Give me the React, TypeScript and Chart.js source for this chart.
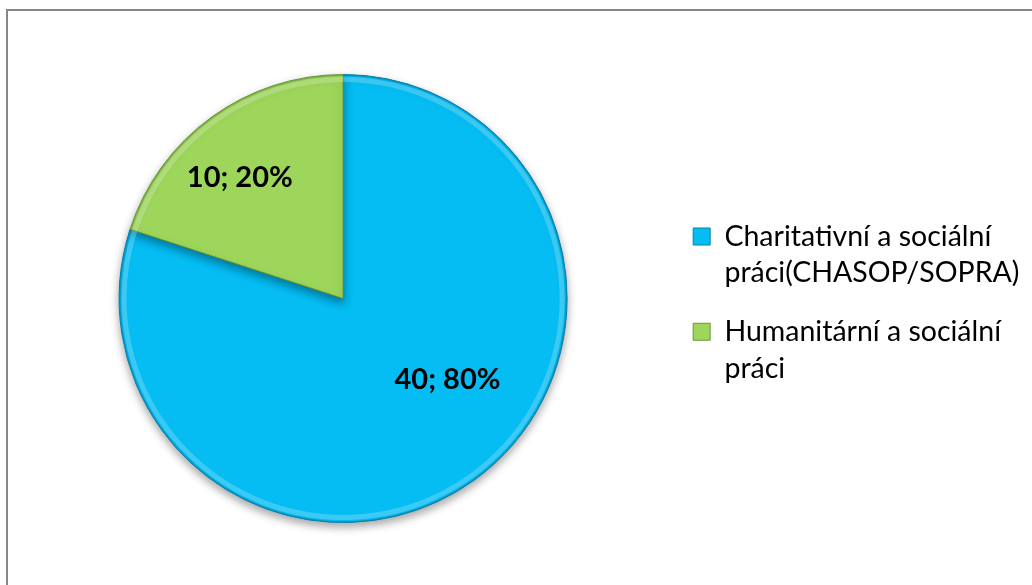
import React, { useEffect, useRef } from "react";
import { Chart, registerables } from "chart.js";

Chart.register(...registerables);

const categories: string[][] = [
  ["Charitativní a sociální", "práci(CHASOP/SOPRA)"],
  ["Humanitární a sociální", "práci"],
];
const values: number[] = [40, 10];
const percents: number[] = [80, 20];

const colors = ["#05BDF3", "#9DD65A"];
const borderColors = ["#0A7FA8", "#6A9638"];
// label placement relative to slice middle (angle shift in degrees, radius fraction)
const labelAngleShift = [-16.2, -4.5];
const labelRadiusFrac = [0.59, 0.71];
const legendShiftY = 8;

const framePlugin = {
  id: "frame",
  beforeDraw(chart: any) {
    const ctx = chart.ctx;
    ctx.save();
    ctx.fillStyle = "#ffffff";
    ctx.fillRect(0, 0, chart.width, chart.height);
    ctx.strokeStyle = "#878787";
    ctx.lineWidth = 2;
    ctx.strokeRect(7, 10, chart.width + 20, chart.height + 20);
    ctx.restore();
  },
};

const legendFitPlugin = {
  id: "legendFit",
  afterLayout(chart: any) {
    const lg = chart.legend;
    if (!lg) return;
    lg.right = chart.width;
    lg.width = lg.right - lg.left;
    lg.top += legendShiftY;
    lg.bottom += legendShiftY;
  },
};

const shadowPlugin = {
  id: "pieShadow",
  beforeDatasetsDraw(chart: any) {
    const ctx = chart.ctx;
    ctx.save();
    ctx.shadowColor = "rgba(0,0,0,0.35)";
    ctx.shadowBlur = 9;
    ctx.shadowOffsetX = 0;
    ctx.shadowOffsetY = 4;
  },
  afterDatasetsDraw(chart: any) {
    chart.ctx.restore();
  },
};

const bevelPlugin = {
  id: "bevel",
  afterDatasetsDraw(chart: any) {
    const ctx = chart.ctx;
    const meta = chart.getDatasetMeta(0);
    meta.data.forEach((arc: any, i: number) => {
      const { x, y, startAngle, endAngle, outerRadius } = arc.getProps(
        ["x", "y", "startAngle", "endAngle", "outerRadius"],
        true
      );
      ctx.save();
      ctx.beginPath();
      ctx.moveTo(x, y);
      ctx.arc(x, y, outerRadius, startAngle, endAngle);
      ctx.closePath();
      ctx.clip();
      ctx.strokeStyle = "rgba(255,255,255,0.22)";
      ctx.lineWidth = 5;
      ctx.beginPath();
      ctx.arc(x, y, outerRadius - 5, startAngle, endAngle);
      ctx.stroke();
      ctx.strokeStyle = borderColors[i];
      ctx.globalAlpha = 0.55;
      ctx.lineWidth = 3;
      ctx.beginPath();
      ctx.arc(x, y, outerRadius, startAngle, endAngle);
      ctx.stroke();
      ctx.restore();
    });
  },
};

const labelPlugin = {
  id: "sliceLabels",
  afterDatasetsDraw(chart: any) {
    const ctx = chart.ctx;
    const meta = chart.getDatasetMeta(0);
    ctx.save();
    ctx.font = "bold 29px Lato";
    ctx.fillStyle = "#000000";
    ctx.textAlign = "center";
    ctx.textBaseline = "middle";
    meta.data.forEach((arc: any, i: number) => {
      const { x, y, startAngle, endAngle, outerRadius } = arc.getProps(
        ["x", "y", "startAngle", "endAngle", "outerRadius"],
        true
      );
      const mid = (startAngle + endAngle) / 2 + (labelAngleShift[i] * Math.PI) / 180;
      const r = outerRadius * labelRadiusFrac[i];
      const px = x + Math.cos(mid) * r;
      const py = y + Math.sin(mid) * r;
      ctx.fillText(`${values[i]}; ${percents[i]}%`, px, py);
    });
    ctx.restore();
  },
};

export default function App() {
  const ref = useRef<HTMLCanvasElement | null>(null);

  useEffect(() => {
    document.body.style.margin = "0";
    const canvas = ref.current!;
    const chart = new Chart(canvas, {
      type: "pie",
      data: {
        labels: categories as any,
        datasets: [
          {
            data: values,
            backgroundColor: colors,
            borderColor: borderColors,
            borderWidth: 1,
          },
        ],
      },
      options: {
        responsive: false,
        animation: false,
        devicePixelRatio: 1,
        layout: { padding: { top: 74, bottom: 62, left: 15, right: 21 } },
        plugins: {
          tooltip: { enabled: false },
          legend: {
            position: "right",
            align: "center",
            labels: {
              boxWidth: 17,
              boxHeight: 17,
              padding: 22,
              color: "#000000",
              font: { family: "Lato", size: 28.5, lineHeight: 1.285 },
              generateLabels: (ch: any) =>
                categories.map((c, i) => ({
                  text: c,
                  fillStyle: colors[i],
                  strokeStyle: borderColors[i],
                  lineWidth: 1,
                  hidden: false,
                  index: i,
                })),
            },
          },
        },
      },
      plugins: [framePlugin, legendFitPlugin, shadowPlugin, bevelPlugin, labelPlugin],
    } as any);
    return () => chart.destroy();
  }, []);

  return (
    <div style={{ position: "absolute", left: 0, top: 0, width: 1032, height: 585 }}>
      <canvas ref={ref} width={1032} height={585} />
    </div>
  );
}
